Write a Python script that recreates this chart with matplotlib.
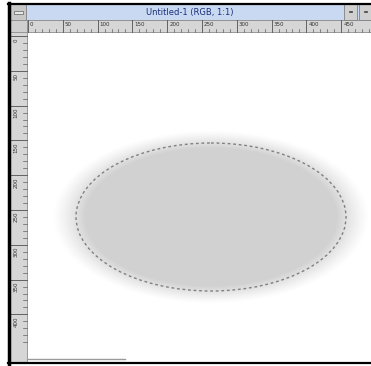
import numpy as np
import matplotlib

matplotlib.use("Agg")
import matplotlib.pyplot as plt
from matplotlib.patches import Rectangle, Ellipse

W, H = 371, 366

# window / ruler content
title = "Untitled-1 (RGB, 1:1)"
top_ruler_labels = ["0", "50", "100", "150", "200", "250", "300", "350", "400", "450"]
left_ruler_labels = ["0", "50", "100", "150", "200", "250", "300", "350", "400"]
ruler_step_px = 34.8  # screen pixels between major ticks

# the selection ellipse (screen px)
ell_center = (211, 217)
ell_width = 270
ell_height = 148
ell_gray = 0.82

fig = plt.figure(figsize=(W / 100, H / 100), dpi=100)
ax = fig.add_axes([0, 0, 1, 1])
ax.set_xlim(0, W)
ax.set_ylim(H, 0)
ax.axis("off")

# canvas background
ax.add_patch(Rectangle((0, 0), W, H, color="white", zorder=0))

# soft-edged ellipse fill (feathered selection)
yy, xx = np.mgrid[0:H, 0:W] + 0.5
r = np.sqrt(((xx - ell_center[0]) / (ell_width / 2)) ** 2 +
            ((yy - ell_center[1]) / (ell_height / 2)) ** 2)
alpha = np.clip((1.17 - r) / 0.24, 0, 1) ** 1.2
rgba = np.ones((H, W, 4))
rgba[..., :3] = ell_gray
rgba[..., 3] = alpha
ax.imshow(rgba, extent=(0, W, H, 0), zorder=1, interpolation="bilinear")

# marching ants
ax.add_patch(Ellipse(ell_center, ell_width, ell_height, fill=False,
                     ec="#808080", lw=1.0, ls=(0, (2, 2)), zorder=2))

# title bar
ax.add_patch(Rectangle((10, 4), W - 10, 16, fc="#c9d9f2", ec="#7f8aa0", lw=0.6, zorder=3))
ax.add_patch(Rectangle((10, 4), 16, 16, fc="#c8c8c8", ec="#808080", lw=0.6, zorder=4))
ax.add_patch(Rectangle((13.5, 10.5), 9, 3, fc="#e8e8e8", ec="#606060", lw=0.5, zorder=5))
for bx in (344, 359):
    ax.add_patch(Rectangle((bx, 4), 13, 16, fc="#d0d0d0", ec="#808080", lw=0.6, zorder=4))
    ax.plot([bx + 5.5, bx + 7.5], [12, 12], color="#404040", lw=1.2, zorder=5)
ax.text(190, 12, title, ha="center", va="center", fontsize=6,
        color="#1c2f7a", zorder=5)

# top ruler
ax.add_patch(Rectangle((10, 20), W - 10, 12, fc="#d6d6d6", ec="#8c8c8c", lw=0.6, zorder=3))
x0 = 28
for i, lab in enumerate(top_ruler_labels):
    x = x0 + i * ruler_step_px
    ax.plot([x, x], [20, 32], color="#505050", lw=0.6, zorder=4)
    ax.text(x + 2, 24.5, lab, ha="left", va="center", fontsize=4, color="#303030", zorder=5)
    for k in range(1, 5):
        xm = x + k * ruler_step_px / 5
        if xm < W:
            ax.plot([xm, xm], [29, 32], color="#606060", lw=0.5, zorder=4)

# left ruler
ax.add_patch(Rectangle((10, 20), 17, H - 24, fc="#d6d6d6", ec="#8c8c8c", lw=0.6, zorder=3))
ax.add_patch(Rectangle((10, 20), 17, 12, fc="#cfcfcf", ec="#8c8c8c", lw=0.6, zorder=4))
y0 = 36
for i, lab in enumerate(left_ruler_labels):
    y = y0 + i * ruler_step_px
    ax.plot([10, 27], [y, y], color="#505050", lw=0.6, zorder=4)
    ax.text(16, y + 2, lab, ha="center", va="top", rotation=90,
            fontsize=4, color="#303030", zorder=5)
    for k in range(1, 5):
        ym = y + k * ruler_step_px / 5
        if ym < H - 6:
            ax.plot([23, 27], [ym, ym], color="#606060", lw=0.5, zorder=4)

# bottom scroll strip
ax.plot([27, 125], [358.5, 358.5], color="#9a9a9a", lw=1.0, zorder=4)

# window frame
ax.plot([8.5, 8.5], [3, 364], color="black", lw=2.5, zorder=6)
ax.plot([8, W], [3.5, 3.5], color="black", lw=1.6, zorder=6)
ax.plot([8, W], [362.5, 362.5], color="black", lw=1.6, zorder=6)

fig.savefig("out.png", dpi=100)
